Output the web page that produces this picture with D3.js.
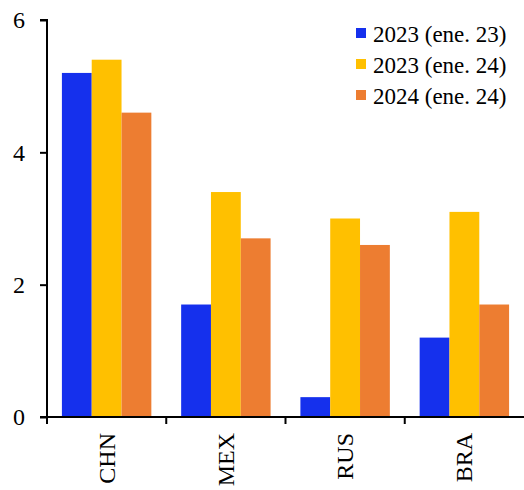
<!DOCTYPE html>
<html><head><meta charset="utf-8">
<script src="https://cdn.jsdelivr.net/npm/d3@7"></script>
<style>body{margin:0;background:#fff}svg{display:block}</style>
</head><body>
<script>
const categories = ["CHN", "MEX", "RUS", "BRA"];
const seriesNames = ["2023 (ene. 23)", "2023 (ene. 24)", "2024 (ene. 24)"];
const s2023ene23 = [5.2, 1.7, 0.3, 1.2];
const s2023ene24 = [5.4, 3.4, 3.0, 3.1];
const s2024ene24 = [4.6, 2.7, 2.6, 1.7];
const yTicks = [0, 2, 4, 6];
const colors = ["#1530ED", "#FFC000", "#ED7D31"];

const series = [s2023ene23, s2023ene24, s2024ene24];
const W = 524, H = 490;
const svg = d3.select("body").append("svg").attr("width", W).attr("height", H);
const font = "'Liberation Serif', 'Times New Roman', serif";

const x = d3.scaleBand().domain(categories).range([47, 524]).paddingInner(0.25).paddingOuter(0.125);
const x1 = d3.scaleBand().domain(d3.range(series.length)).range([0, x.bandwidth()]);
const y = d3.scaleLinear().domain([0, 6]).range([417, 20]);

const g = svg.append("g");
categories.forEach((c, ci) => {
  series.forEach((s, si) => {
    g.append("rect")
      .attr("x", x(c) + x1(si))
      .attr("y", y(s[ci]))
      .attr("width", x1.bandwidth())
      .attr("height", y(0) - y(s[ci]))
      .attr("fill", colors[si]);
  });
});

// y axis
const ya = svg.append("g").attr("transform", "translate(47,0)")
  .call(d3.axisLeft(y).tickValues(yTicks).tickSize(7).tickPadding(15).tickFormat(d3.format("d")));
ya.select(".domain").attr("stroke", "#000").attr("stroke-width", 2).attr("d", `M-7,${y(6)}H0V${y(0)}`);
ya.selectAll(".tick line").attr("stroke", "#000").attr("stroke-width", 2);
ya.selectAll(".tick text").attr("font-family", font).attr("font-size", 24).attr("fill", "#000");

// x axis
const xTickScale = d3.scaleLinear().domain([0, categories.length]).range([47, 524]);
const xa = svg.append("g").attr("transform", `translate(0,${y(0)})`);
xa.append("line").attr("x1", 40).attr("x2", 524).attr("y1", 0).attr("y2", 0)
  .attr("stroke", "#000").attr("stroke-width", 2);
d3.range(categories.length).forEach(i => {
  const tx = xTickScale(i);
  xa.append("line").attr("x1", tx).attr("x2", tx).attr("y1", 0).attr("y2", 7)
    .attr("stroke", "#000").attr("stroke-width", 2);
});
categories.forEach(c => {
  const cx = x(c) + x.bandwidth() / 2;
  xa.append("text")
    .attr("transform", `translate(${cx + 8},16) rotate(-90)`)
    .attr("text-anchor", "end")
    .attr("font-family", font).attr("font-size", 24).attr("fill", "#000")
    .text(c);
});

// legend
const lg = svg.append("g");
seriesNames.forEach((n, i) => {
  const cy = 33 + i * 31;
  lg.append("rect").attr("x", 356).attr("y", cy - 5).attr("width", 10).attr("height", 10).attr("fill", colors[i]);
  lg.append("text").attr("x", 373).attr("y", cy + 9)
    .attr("font-family", font).attr("font-size", 23).attr("fill", "#000").text(n);
});
</script>
</body></html>
